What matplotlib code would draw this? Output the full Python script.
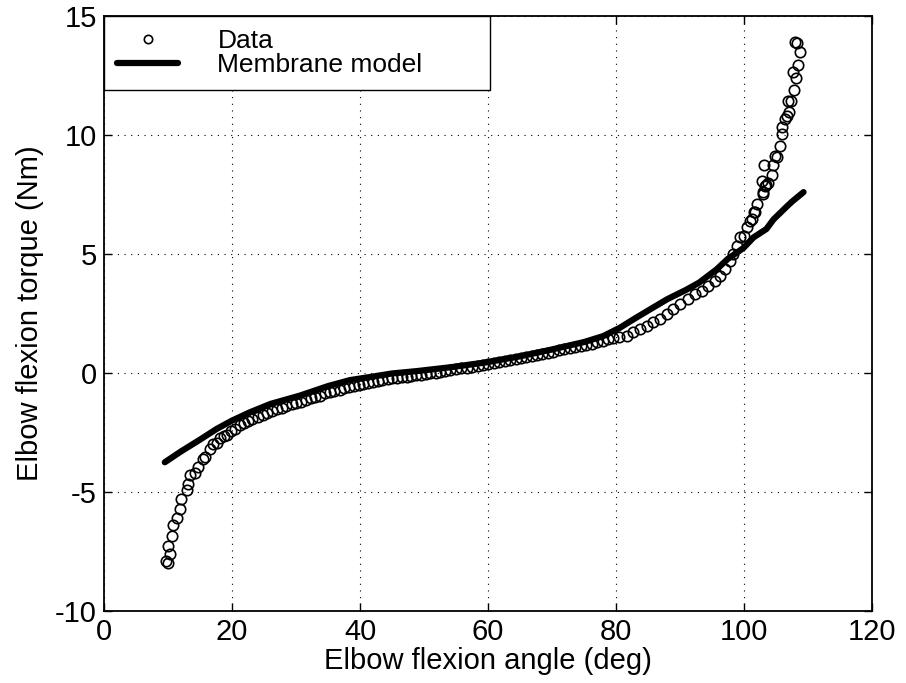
import matplotlib
matplotlib.use("Agg")
import matplotlib.pyplot as plt

plt.rcParams['font.family'] = ['Liberation Sans', 'DejaVu Sans']
plt.rcParams['axes.unicode_minus'] = False

data_angle = [9.7, 10.0, 10.3, 10.05, 10.6, 10.8, 11.35, 11.9, 12.1, 12.9, 13.2, 13.4,
              14.2, 14.7, 15.5, 15.8, 16.6, 17.1, 17.6, 18.1, 18.7, 19.2, 19.8, 20.5,
              21.2, 21.8, 22.5, 23.2, 24.0, 24.8, 25.5, 26.2, 27.0, 27.8, 28.5, 29.3,
              30.0, 30.8, 31.5, 32.3, 33.0, 33.8, 34.5, 35.3, 36.0, 36.8, 37.5, 38.3,
              39.0, 39.8, 40.5, 41.3, 42.0, 42.8, 43.5, 44.3, 45.0, 45.8, 46.5, 47.3,
              48.0, 48.8, 49.5, 50.3, 51.0, 51.8, 52.5, 53.3, 54.0, 55.0, 55.8, 56.7,
              57.5, 58.4, 59.2, 60.0, 60.9, 61.7, 62.6, 63.4, 64.3, 65.1, 66.0, 66.8,
              67.7, 68.5, 69.4, 70.2, 71.1, 71.9, 72.8, 73.6, 74.5, 75.3, 76.2, 77.0,
              77.9, 78.7, 79.6, 80.5, 81.7, 82.7, 83.75, 84.8, 85.8, 86.9, 87.9, 88.95,
              90.0, 91.3, 92.3, 93.4, 94.4, 95.5, 96.25, 97.0, 97.8, 98.3, 98.9, 99.4,
              100.0, 100.4, 100.9, 101.2, 101.5, 101.7, 102.0, 103.0, 103.0, 103.5,
              103.3, 102.8, 103.8, 104.3, 103.1, 104.6, 104.8, 105.2, 105.6, 106.0,
              105.9, 106.4, 106.7, 107.1, 106.9, 107.4, 107.8, 108.1, 107.7, 108.5,
              108.8, 108.0, 108.3]
data_torque = [-7.9, -8.0, -7.6, -7.25, -6.85, -6.4, -6.1, -5.7, -5.3, -4.9, -4.65, -4.3,
               -4.2, -3.95, -3.6, -3.55, -3.2, -3.0, -2.95, -2.75, -2.65, -2.6, -2.45, -2.35,
               -2.2, -2.12, -2.0, -1.95, -1.85, -1.77, -1.7, -1.6, -1.52, -1.45, -1.4, -1.3,
               -1.26, -1.2, -1.15, -1.06, -1.02, -0.95, -0.86, -0.8, -0.75, -0.7, -0.63, -0.6,
               -0.55, -0.5, -0.46, -0.42, -0.38, -0.35, -0.31, -0.27, -0.23, -0.2, -0.17, -0.15,
               -0.12, -0.1, -0.08, -0.05, -0.02, 0.02, 0.05, 0.08, 0.12, 0.15, 0.19, 0.23,
               0.27, 0.31, 0.35, 0.38, 0.43, 0.47, 0.5, 0.55, 0.6, 0.64, 0.68, 0.72,
               0.77, 0.81, 0.86, 0.9, 0.95, 0.99, 1.04, 1.09, 1.13, 1.18, 1.23, 1.29,
               1.35, 1.41, 1.46, 1.5, 1.57, 1.71, 1.85, 1.99, 2.13, 2.27, 2.48, 2.69,
               2.9, 3.11, 3.32, 3.46, 3.67, 3.88, 4.09, 4.37, 4.72, 5.0, 5.35, 5.7,
               5.77, 6.12, 6.4, 6.47, 6.75, 6.75, 7.1, 7.5, 7.59, 7.9,
               7.87, 8.08, 8.0, 8.3, 8.72, 8.72, 9.13, 9.06, 9.55, 10.04,
               10.32, 10.67, 10.81, 10.95, 11.44, 11.44, 11.9, 12.4, 12.63, 12.95,
               13.5, 13.9, 13.87]

# membrane model (thick line)
model_angle = [9.5, 12.0, 15.0, 17.6, 20.0, 22.8, 26.0, 30.6, 35.0, 38.4, 42.0, 45.0,
               48.9, 54.1, 59.8, 65.0, 70.2, 75.0, 78.0, 80.6, 83.0, 85.8, 88.0, 91.0,
               93.0, 95.7, 97.5, 99.9, 101.5, 103.5, 104.6, 106.7, 107.5, 109.3]
model_torque = [-3.75, -3.3, -2.8, -2.35, -2.0, -1.65, -1.3, -0.95, -0.55, -0.3, -0.15, -0.02,
                0.08, 0.24, 0.45, 0.7, 1.0, 1.3, 1.55, 1.9, 2.3, 2.75, 3.1, 3.5,
                3.8, 4.35, 4.8, 5.25, 5.7, 6.05, 6.45, 7.0, 7.2, 7.6]

x_ticks = [0, 20, 40, 60, 80, 100, 120]
y_ticks = [-10, -5, 0, 5, 10, 15]

fig = plt.figure(figsize=(9.06, 6.83), dpi=100)
ax = fig.add_axes([0.1148, 0.1054, 0.8477, 0.8712])

ax.plot(data_angle, data_torque, linestyle='none', marker='o', markersize=7.5,
        markerfacecolor='none', markeredgecolor='black', markeredgewidth=1.2,
        label='Data')
ax.plot(model_angle, model_torque, color='black', linewidth=4.5,
        solid_capstyle='round', label='Membrane model')

ax.set_xlim(0, 120)
ax.set_ylim(-10, 15)
ax.set_xticks(x_ticks)
ax.set_yticks(y_ticks)
ax.grid(True, color='black', linestyle=(0, (1, 5)), linewidth=0.8)

ax.tick_params(direction='in', length=6, width=1, top=True, right=True,
               labelsize=21, pad=5)
for s in ax.spines.values():
    s.set_linewidth(1.3)

ax.set_xlabel('Elbow flexion angle (deg)', fontsize=21, labelpad=1)
ax.set_ylabel('Elbow flexion torque (Nm)', fontsize=21, labelpad=8)

leg = ax.legend(loc='upper left', bbox_to_anchor=(0, 1, 0.503, 0), mode='expand',
                borderaxespad=0, fontsize=19, fancybox=False,
                edgecolor='black', framealpha=1, handlelength=2.3,
                handletextpad=1.5, labelspacing=0.0, borderpad=0.5)
leg.get_frame().set_linewidth(1.0)
for h in leg.legend_handles:
    h.set_markersize(6)

fig.savefig('out.png', dpi=100)
